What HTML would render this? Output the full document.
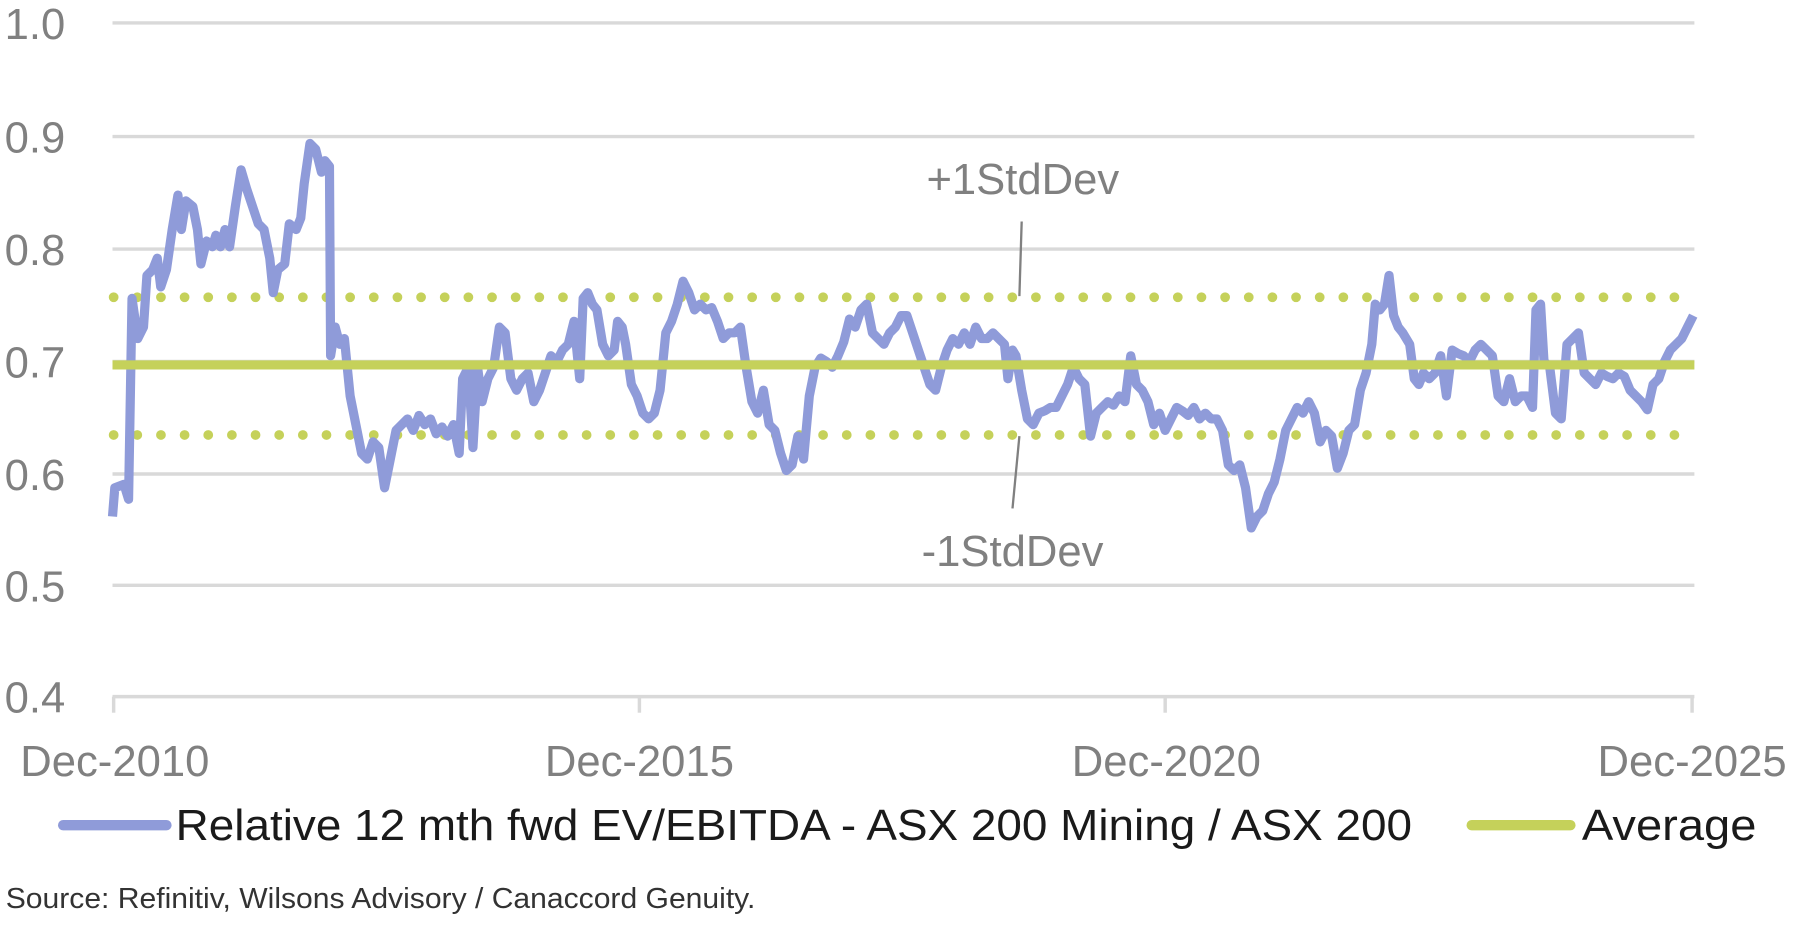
<!DOCTYPE html>
<html><head><meta charset="utf-8"><style>
html,body{margin:0;padding:0;background:#fff;}
svg{display:block;}
text{font-family:"Liberation Sans",sans-serif;}
</style></head><body>
<svg width="1800" height="948" viewBox="0 0 1568 826" preserveAspectRatio="none" xmlns="http://www.w3.org/2000/svg">
<g stroke="#d9d9d9" stroke-width="3">
<line x1="98" y1="20" x2="1476" y2="20"/>
<line x1="98" y1="119" x2="1476" y2="119"/>
<line x1="98" y1="217" x2="1476" y2="217"/>
<line x1="98" y1="315" x2="1476" y2="315"/>
<line x1="98" y1="413" x2="1476" y2="413"/>
<line x1="98" y1="510" x2="1476" y2="510"/>
<line x1="98" y1="607" x2="1476" y2="607"/>
<line x1="99" y1="607" x2="99" y2="621"/>
<line x1="557" y1="607" x2="557" y2="621"/>
<line x1="1015" y1="607" x2="1015" y2="621"/>
<line x1="1474" y1="607" x2="1474" y2="621"/>
</g>
<g fill="#808080" font-size="38">
<text x="4" y="34">1.0</text>
<text x="4" y="133">0.9</text>
<text x="4" y="231">0.8</text>
<text x="4" y="329">0.7</text>
<text x="4" y="427">0.6</text>
<text x="4" y="524">0.5</text>
<text x="4" y="621">0.4</text>
<text x="100" y="676" text-anchor="middle">Dec-2010</text>
<text x="557" y="676" text-anchor="middle">Dec-2015</text>
<text x="1016" y="676" text-anchor="middle">Dec-2020</text>
<text x="1474" y="676" text-anchor="middle">Dec-2025</text>
<text x="891" y="169" text-anchor="middle">+1StdDev</text>
<text x="882" y="493" text-anchor="middle">-1StdDev</text>
</g>
<line x1="890" y1="193" x2="888" y2="258" stroke="#808080" stroke-width="2"/>
<line x1="888" y1="380" x2="882" y2="443" stroke="#808080" stroke-width="2"/>
<g stroke="#c5d15a" stroke-linecap="round" fill="none">
<line x1="99" y1="259" x2="1470" y2="259" stroke-width="8.5" stroke-dasharray="0 20.6"/>
<line x1="99" y1="379" x2="1470" y2="379" stroke-width="8.5" stroke-dasharray="0 20.6"/>
</g>
<polyline fill="none" stroke="#8f9bd9" stroke-width="8" stroke-linejoin="round" points="98,450 100,425 108,422 112,435 115,260 120,295 125,285 128,240 133,235 137,225 140,250 145,235 150,200 155,170 158,200 162,175 168,180 172,200 175,230 180,210 185,215 188,205 192,215 196,200 200,215 205,180 210,148 215,165 220,180 225,195 230,200 235,225 238,255 242,235 248,230 252,195 258,200 262,190 265,160 270,125 275,130 280,150 283,140 287,145 288,310 292,285 296,300 300,295 305,345 310,370 315,395 320,400 325,385 330,390 335,425 340,400 345,375 350,370 355,365 360,375 365,362 370,370 375,365 380,378 385,372 390,380 395,370 400,395 403,330 408,320 412,390 416,320 420,350 425,330 430,320 435,285 440,290 445,330 450,340 455,330 460,325 465,350 470,340 475,325 480,310 485,315 490,305 495,300 500,280 505,330 508,260 512,255 516,265 520,270 525,300 530,310 535,305 538,280 542,285 545,300 550,335 555,345 560,360 565,365 570,360 575,340 580,290 585,280 590,265 595,245 600,255 605,270 610,265 615,270 620,268 625,280 630,295 635,290 640,290 645,285 650,320 655,350 660,360 665,340 670,370 675,375 680,395 685,410 690,405 695,380 700,400 705,345 710,320 715,312 720,315 725,320 730,310 735,298 740,278 745,285 750,270 755,265 760,290 765,295 770,300 775,290 780,285 785,275 790,275 795,290 800,305 805,320 810,335 815,340 820,320 825,305 830,295 835,300 840,290 845,300 850,285 855,295 860,295 865,290 870,295 875,300 878,330 882,305 885,310 890,340 895,365 900,370 905,360 910,358 915,355 920,355 925,345 930,335 935,320 940,330 945,335 950,380 955,360 960,355 965,350 970,353 975,345 980,350 985,310 990,335 995,340 1000,350 1005,370 1010,360 1015,375 1020,365 1025,355 1030,358 1035,362 1040,355 1045,365 1050,360 1055,365 1060,365 1065,375 1070,405 1075,410 1080,405 1085,425 1090,460 1095,450 1100,445 1105,430 1110,420 1115,400 1120,375 1125,365 1130,355 1135,360 1140,350 1145,360 1150,385 1155,375 1160,380 1165,408 1170,395 1175,375 1180,370 1185,340 1190,325 1195,300 1198,265 1202,270 1206,265 1210,240 1214,275 1218,285 1222,290 1228,300 1232,330 1236,335 1240,325 1245,330 1250,325 1255,310 1260,345 1265,305 1270,308 1275,310 1280,315 1285,305 1290,300 1295,305 1300,310 1305,345 1310,350 1315,330 1320,350 1325,345 1330,345 1335,355 1338,270 1342,265 1345,315 1350,320 1355,360 1360,365 1365,300 1370,295 1375,290 1380,325 1385,330 1390,335 1395,325 1400,328 1405,330 1410,325 1415,328 1420,340 1425,345 1430,350 1435,357 1440,335 1445,330 1450,315 1455,305 1460,300 1465,295 1470,285 1475,275"/>
<line x1="98" y1="318" x2="1476" y2="318" stroke="#c5d15a" stroke-width="8"/>
<line x1="55" y1="719" x2="145" y2="719" stroke="#8f9bd9" stroke-width="9" stroke-linecap="round"/>
<line x1="1282" y1="719" x2="1368" y2="719" stroke="#c5d15a" stroke-width="9" stroke-linecap="round"/>
<g fill="#1a1a1a" font-size="38">
<text x="153" y="732" textLength="1077" lengthAdjust="spacingAndGlyphs">Relative 12 mth fwd EV/EBITDA - ASX 200 Mining / ASX 200</text>
<text x="1378" y="732" textLength="152" lengthAdjust="spacingAndGlyphs">Average</text>
</g>
<text x="5" y="791" font-size="25" fill="#333" textLength="653" lengthAdjust="spacingAndGlyphs">Source: Refinitiv, Wilsons Advisory / Canaccord Genuity.</text>
</svg>
</body></html>
